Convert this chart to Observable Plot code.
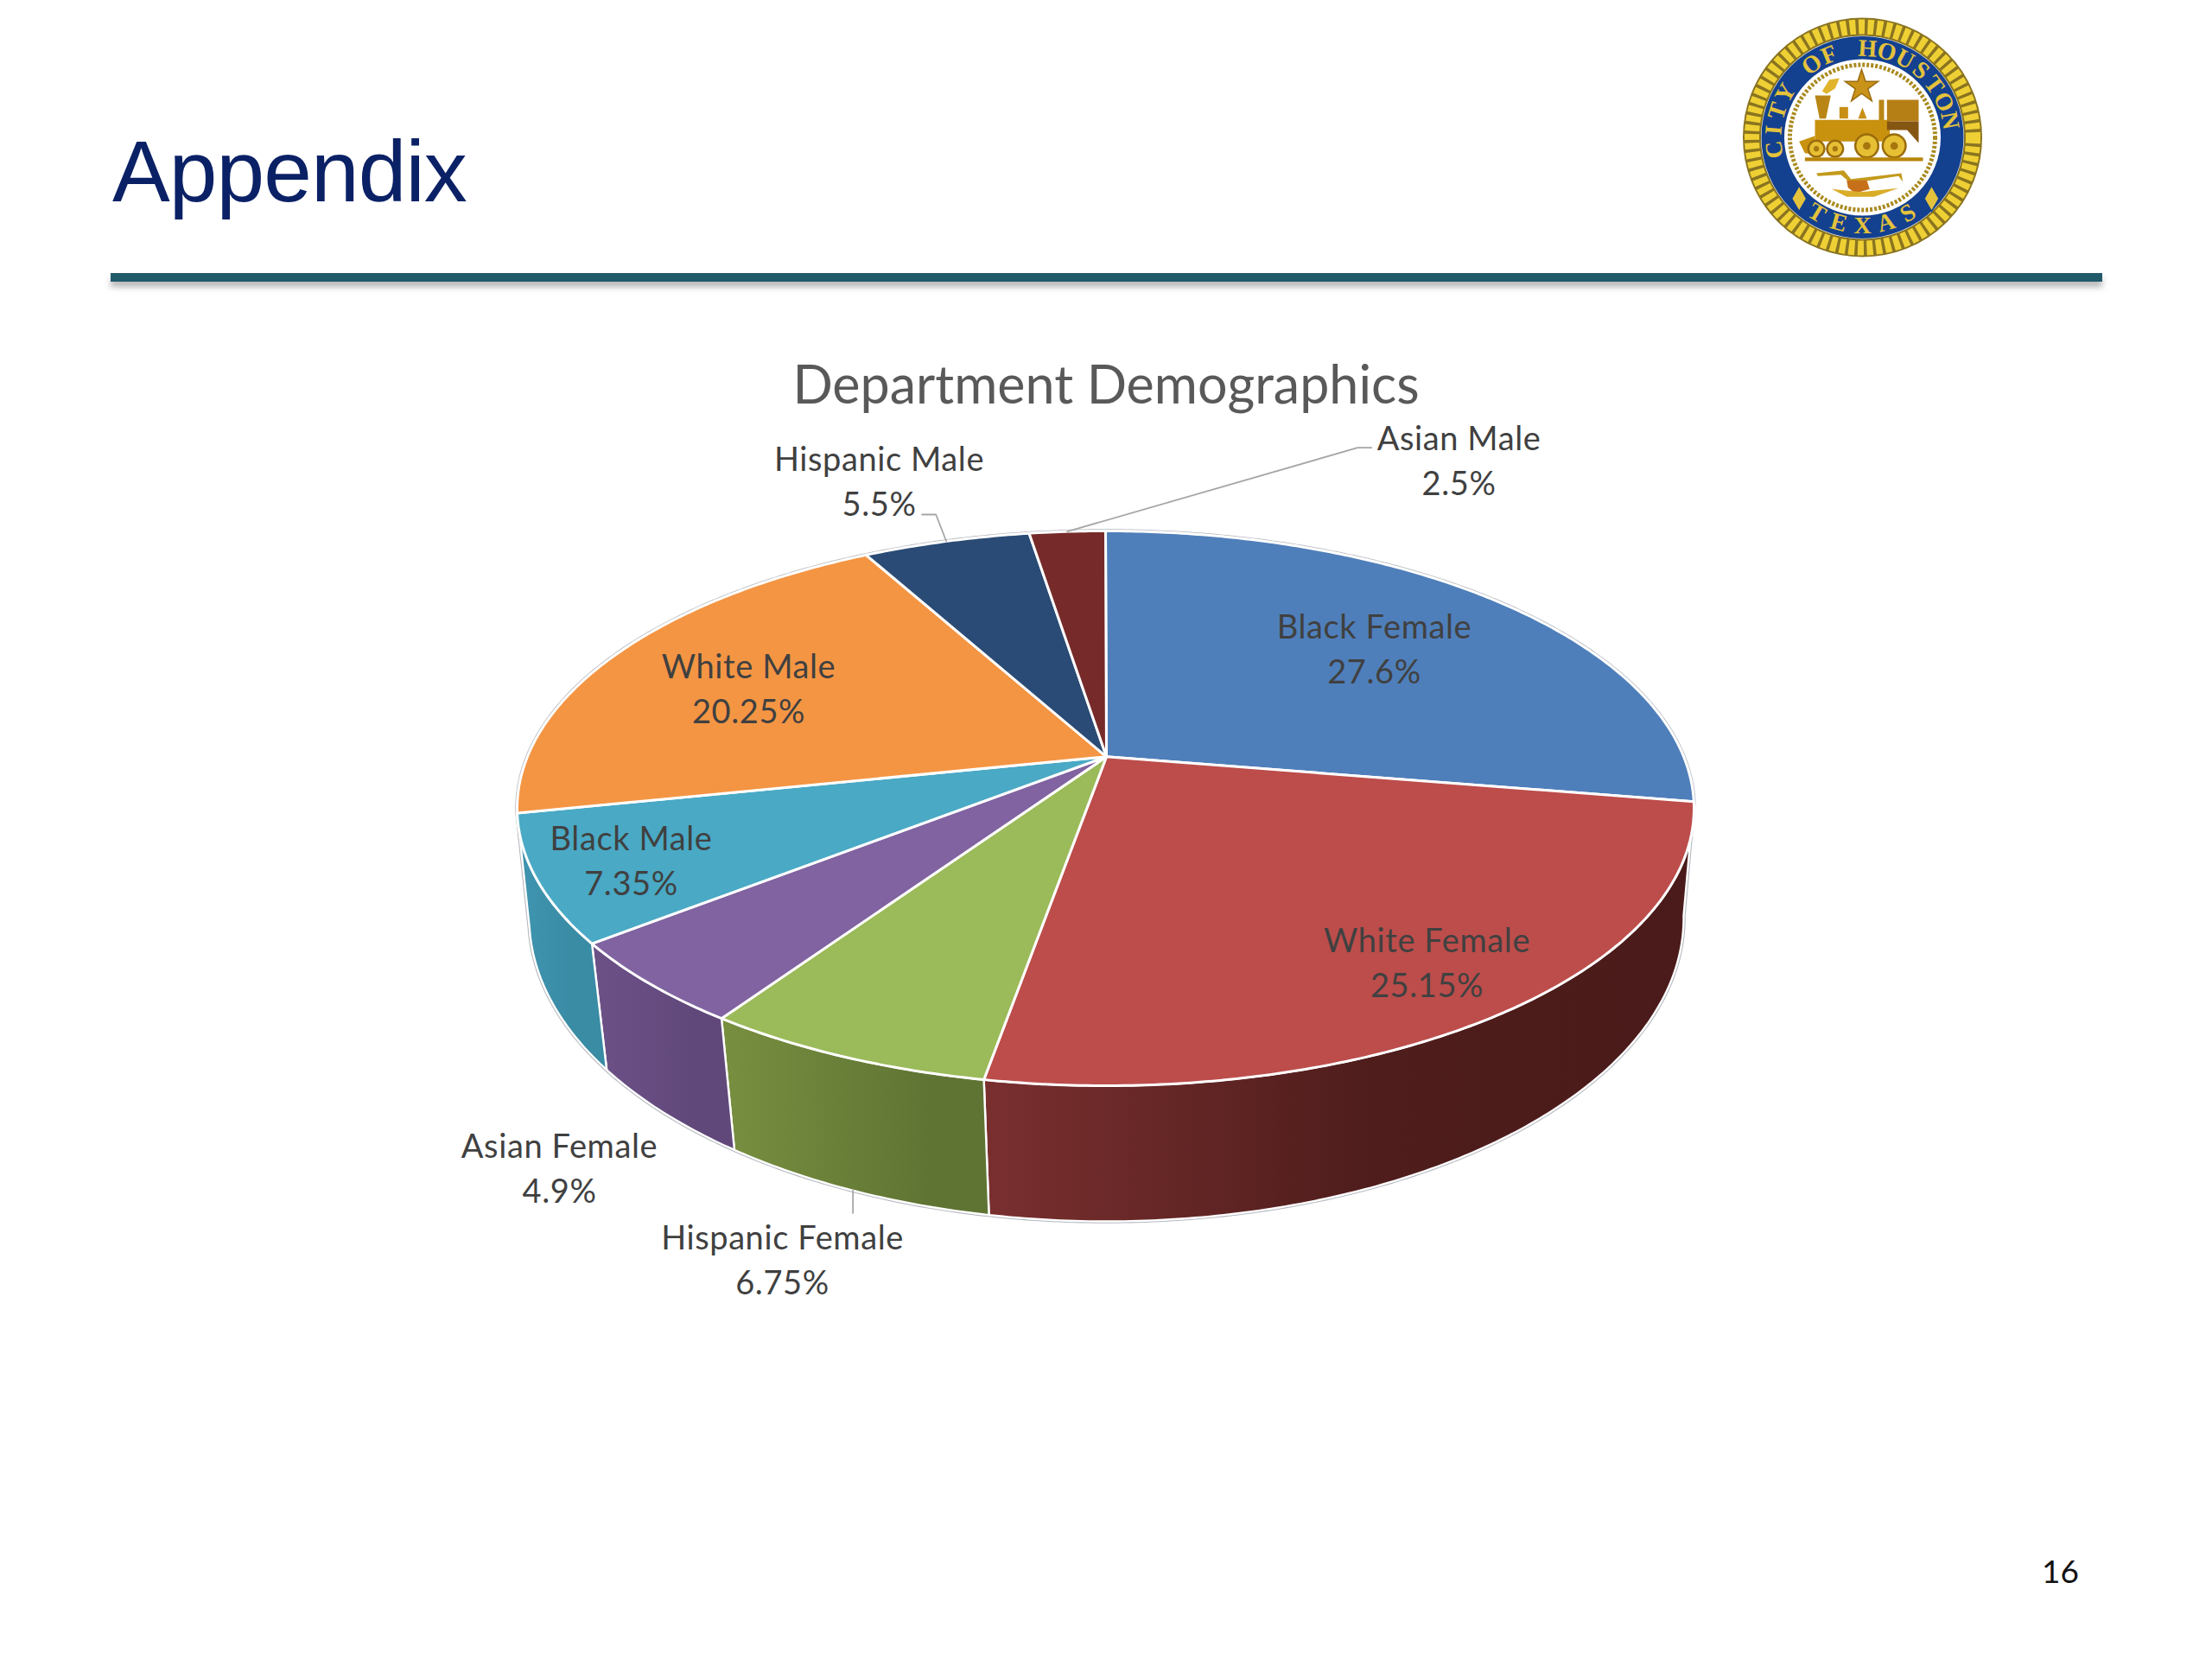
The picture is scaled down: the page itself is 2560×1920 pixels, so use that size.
<!DOCTYPE html>
<html>
<head>
<meta charset="utf-8">
<script src="https://cdn.jsdelivr.net/npm/d3@7"></script>
<script src="https://cdn.jsdelivr.net/npm/@observablehq/plot@0.6"></script>
<style>
html,body{margin:0;padding:0;background:#fff;width:2560px;height:1920px;overflow:hidden}
#page{position:relative;width:2560px;height:1920px;overflow:hidden}
#page>*{position:absolute}
#heading{left:130px;top:148px;margin:0;font:400 100px/100px "Liberation Sans",Arial,sans-serif;letter-spacing:-.9px;color:#0b2166}
#rule{left:128px;top:316px;width:2305px;height:10px;background:#215a69;box-shadow:0 6px 7px rgba(120,120,120,.55)}
#chartTitle{left:0;width:2560px;top:408px;text-align:center;font:400 61px/72px Lato,sans-serif;color:#595959}
#pageNumber{left:2363px;top:1796px;font:400 37px/44px Lato,sans-serif;color:#111}
#chart{left:0;top:0}
</style>
</head>
<body>
<div id="page">
  <div id="chart"></div>
  <h1 id="heading">Appendix</h1>
  <div id="rule"></div>
  <div id="chartTitle">Department Demographics</div>
  <div id="pageNumber">16</div>
</div>
<script>
// ---- chart data, clockwise from twelve o'clock ----
const groups = ["Black Female","White Female","Hispanic Female","Asian Female","Black Male","White Male","Hispanic Male","Asian Male"];
const shares = [27.6,25.15,6.75,4.9,7.35,20.25,5.5,2.5];
const faceColors = ["#4f7fba","#bc4d4b","#9bba59","#8063a0","#4aa9c5","#f49544","#2a4b75","#772a2a"];
const wallColors = [null,["#7a2f2f","#4e1d1c","#4a1b1a"],["#788f40","#5f7433","#5f7433"],["#6c5187","#61487a","#61487a"],["#3f95b0","#3a8ba4","#3a8ba4"],null,null,null];

// ---- layout of the tilted disc ----
const face = {cx:1279, cy:935, rx:681, ry:321, tilt:0.186};
const base = {cx:1280, cy:1062, rx:668, ry:351, tilt:0.17};
const labelPlaces = [[1590,748],[1651,1111],[905,1455],[647,1349],[730,993],[866,794],[1017,554],[1688,530]];
const leaderBends = {2:[[0,26]], 6:[[-12,-31],[-28,-31]], 7:[[336,-97],[352,-97]]};

function rim(plane, pct){
  const a = pct/100*2*Math.PI, u = Math.sin(a), v = Math.cos(a), t = plane.tilt, d = 1+t*v;
  return {x: plane.cx+plane.rx*u*Math.sqrt(1-t*t)/d, y: plane.cy-plane.ry*(v+t)/d};
}
const arc = (plane,a,b) => d3.range(0,1.0001,1/Math.max(2,Math.ceil(Math.abs(b-a)*6))).map(t => rim(plane,a+(b-a)*t));
const hub = {x:face.cx+1, y:face.cy-face.ry*face.tilt};

const edges = d3.cumsum(shares);
const slices = groups.map((g,i)=>({g,i,start:i?edges[i-1]:0,end:edges[i],value:shares[i]}));

const marks = [];
// outer hairline around the whole solid
const outline = [...arc(face,edges[4],edges[0]+100),...arc(base,edges[0],edges[4])];
marks.push(Plot.line(outline,{x:"x",y:"y",curve:"linear-closed",fill:"#fff",stroke:"#b4b8bf",strokeWidth:4.5}));
// side walls
for(const s of slices){
  if(!wallColors[s.i]) continue;
  const pts=[...arc(face,s.start,s.end),...arc(base,s.end,s.start)];
  marks.push(Plot.line(pts,{x:"x",y:"y",curve:"linear-closed",fill:`url(#wall${s.i})`,stroke:"#fff",strokeWidth:2.4,strokeLinejoin:"round"}));
}
// top face
for(const s of slices){
  const pts=[hub,...arc(face,s.start,s.end)];
  marks.push(Plot.line(pts,{x:"x",y:"y",curve:"linear-closed",fill:faceColors[s.i],stroke:"#fff",strokeWidth:3,strokeLinejoin:"round"}));
}
// leader lines
for(const k of Object.keys(leaderBends)){
  const s=slices[k];
  const start=s.i===2?rim(base,(s.start+s.end)/2):rim(face,(s.start+s.end)/2);
  const pts=[start,...leaderBends[k].map(([dx,dy])=>({x:start.x+dx,y:start.y+dy}))];
  marks.push(Plot.line(pts,{x:"x",y:"y",stroke:"#a6a6a6",strokeWidth:1.8}));
}
// labels
marks.push(Plot.text(slices,{
  x:d=>labelPlaces[d.i][0],y:d=>labelPlaces[d.i][1],
  text:d=>`${d.g}\n${d.value}%`,
  fontFamily:"Lato, sans-serif",fontSize:38,lineHeight:1.37,fill:"#404040",textAnchor:"middle"
}));

// ---- city seal, built in the same coordinate space ----
const sealX=2155, sealY=158.5;
const sx=z=>1960+z/3, sy=z=>z/3;
const ring=(r,o)=>Plot.dot([0],{x:()=>sealX,y:()=>sealY,r,fill:"none",...o});
const poly=(pts,fill,o={})=>Plot.line(pts.map(([a,b])=>({x:sx(a),y:sy(b)})),{x:"x",y:"y",curve:"linear-closed",fill,stroke:"none",...o});
const wheel=(a,b,r)=>[
  Plot.dot([0],{x:()=>sx(a),y:()=>sy(b),r:r/3,fill:"#e6bf34",stroke:"#9a6c0c",strokeWidth:2.5}),
  Plot.dot([0],{x:()=>sx(a),y:()=>sy(b),r:r/9,fill:"#a8760f"})];
const topWord="CITY OF HOUSTON".split("").map((c,i)=>{const a=-98+i*12.65;return{c,x:sealX+103*Math.sin(a*Math.PI/180),y:sealY-103*Math.cos(a*Math.PI/180),a};});
const lowWord="TEXAS".split("").map((c,i)=>{const a=-31+i*15.5;return{c,x:sealX+102*Math.sin(a*Math.PI/180),y:sealY+102*Math.cos(a*Math.PI/180),a:-a};});
marks.push(
  ring(128,{stroke:"#8a7420",strokeWidth:21}),
  ring(128,{stroke:"#efd034",strokeWidth:17,strokeDasharray:"7 3.5"}),
  Plot.dot([0],{x:()=>sealX,y:()=>sealY,r:117,fill:"#13418f",stroke:"none"}),
  ring(88,{stroke:"#fff",strokeWidth:5}),
  Plot.dot([0],{x:()=>sealX,y:()=>sealY,r:87,fill:"#fff",stroke:"none"}),
  ring(84,{stroke:"#a98a1e",strokeWidth:5,strokeDasharray:"3 2"}),
  Plot.text([...topWord,...lowWord],{x:"x",y:"y",text:"c",rotate:"a",fontFamily:"Liberation Serif, serif",fontWeight:"bold",fontSize:28,fill:"#e4c23c"}),
  Plot.dot([0,1],{x:i=>sx(i?825:365),y:()=>sy(688),r:9,symbol:"diamond",fill:"#e4c23c",stroke:"#13418f"}),
  Plot.dot([0],{x:()=>sx(582),y:()=>sy(300),r:12,symbol:"star",fill:"#c9931a",stroke:"#9a6c0c"}),
  poly([[420,330],[475,330],[458,410],[436,410]],"#b98616"),
  poly([[445,315],[470,275],[505,270],[490,305],[460,325]],"#e0b52c"),
  poly([[505,370],[535,370],[535,410],[505,410]],"#c88f15"),
  poly([[570,410],[585,372],[600,410]],"#c88f15"),
  poly([[642,345],[660,345],[660,420],[642,420]],"#b98616"),
  poly([[420,415],[680,415],[680,490],[420,490]],"#c8920f"),
  poly([[670,345],[780,345],[780,420],[670,420]],"#b67f16"),
  poly([[670,420],[780,420],[780,495],[740,450],[670,450]],"#855612"),
  poly([[365,490],[420,470],[420,535],[385,530]],"#c8920f"),
  ...wheel(425,515,28),...wheel(490,515,28),...wheel(600,505,40),...wheel(695,505,40),
  poly([[385,545],[795,545],[795,558],[385,558]],"#b8860b"),
  poly([[425,600],[520,590],[545,620],[720,600],[725,630],[710,610],[545,635],[510,605],[430,610]],"#c39a1c"),
  poly([[530,625],[600,625],[610,655],[560,670],[535,650]],"#c6701a"),
  poly([[478,655],[580,665],[710,652],[625,682],[530,682]],"#d9ad28")
);

const svg = Plot.plot({
  width:2560,height:1920,margin:0,
  style:{background:"transparent",overflow:"visible"},
  x:{domain:[0,2560],range:[0,2560],axis:null},
  y:{domain:[0,1920],range:[0,1920],axis:null},
  marks
});
d3.select(svg).selectAll("text").filter(function(){return this.textContent.includes("%");}).style("letter-spacing","0.6px");
// wall shading (left lit, right dark)
const defs=d3.select(svg).insert("defs",":first-child");
for(const s of slices){
  if(!wallColors[s.i]) continue;
  const x0=rim(face,s.end).x, x1=rim(face,s.start).x;
  const g=defs.append("linearGradient").attr("id",`wall${s.i}`).attr("gradientUnits","userSpaceOnUse")
    .attr("x1",x0).attr("x2",x1).attr("y1",0).attr("y2",0);
  const stops=s.i===1?[0,.55,1]:[0,.8,1];
  wallColors[s.i].forEach((c,j)=>g.append("stop").attr("offset",stops[j]).attr("stop-color",c));
}
document.getElementById("chart").append(svg);
</script>
</body>
</html>
